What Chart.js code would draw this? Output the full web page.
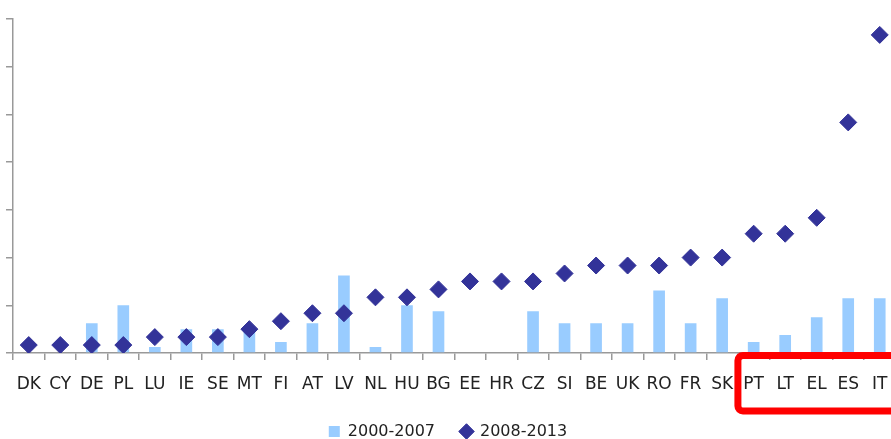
<!DOCTYPE html>
<html>
<head>
<meta charset="utf-8">
<script src="https://cdn.jsdelivr.net/npm/chart.js@4"></script>
<style>
  html, body { margin: 0; padding: 0; background: #fff; overflow: hidden; }
</style>
</head>
<body>
<canvas id="countryChart" width="905" height="439"></canvas>
<script>
const countries = ["DK", "CY", "DE", "PL", "LU", "IE", "SE", "MT", "FI", "AT", "LV", "NL", "HU", "BG",
  "EE", "HR", "CZ", "SI", "BE", "UK", "RO", "FR", "SK", "PT", "LT", "EL", "ES", "IT"];
const period1 = [0, 0, 3.75, 6, 0.75, 3, 3, 3, 1.375, 3.75, 9.75, 0.75, 6, 5.25,
  0, 0, 5.25, 3.75, 3.75, 3.75, 7.875, 3.75, 6.875, 1.375, 2.25, 4.5, 6.875, 6.875];
const period2 = [1, 1, 1, 1, 2, 2, 2, 3, 4, 5, 5, 7, 7, 8,
  9, 9, 9, 10, 11, 11, 11, 12, 12, 15, 15, 17, 29, 40];
const yTicks = [0, 6, 12, 18, 24, 30, 36, 42];
const highlightFrom = "PT";

const textFont = "'DejaVu Sans', sans-serif";

// red frame around the last group of country labels
const highlightBox = {
  id: "highlightBox",
  afterDraw(chart) {
    const x = chart.scales.x;
    const i = countries.indexOf(highlightFrom);
    const left = (x.getPixelForValue(i - 1) + x.getPixelForValue(i)) / 2;
    const top = x.top + 2.5;
    const bottom = x.top + 58;
    const right = chart.width + 20;
    const c = chart.ctx;
    c.save();
    c.strokeStyle = "#ff0000";
    c.lineWidth = 7;
    c.beginPath();
    c.roundRect(left, top, right - left, bottom - top, 5);
    c.stroke();
    c.restore();
  },
};

window.onload = function () {
  const ctx = document.getElementById("countryChart").getContext("2d");
  new Chart(ctx, {
    data: {
      labels: countries,
      datasets: [
        {
          type: "bar",
          label: "2000-2007",
          data: period1,
          backgroundColor: "#99ccff",
          borderWidth: 0,
          barPercentage: 0.37,
          categoryPercentage: 1,
          pointStyle: "rect",
          order: 2,
        },
        {
          type: "line",
          label: "2008-2013",
          data: period2,
          showLine: false,
          pointStyle: "rectRot",
          pointRadius: 8.5,
          pointBorderWidth: 1,
          pointBackgroundColor: "#333399",
          pointBorderColor: "#333399",
          backgroundColor: "#333399",
          borderColor: "#333399",
          order: 1,
        },
      ],
    },
    options: {
      responsive: false,
      animation: false,
      layout: { padding: { left: 0, right: 9, top: 19, bottom: -10.5 } },
      plugins: {
        tooltip: { enabled: false },
        legend: {
          position: "bottom",
          labels: {
            usePointStyle: true,
            boxHeight: 11,
            boxWidth: 11,
            padding: 26,
            color: "#222",
            font: { family: textFont, size: 16 },
            sort: (a, b) => a.datasetIndex - b.datasetIndex,
          },
        },
      },
      scales: {
        x: {
          grid: { display: true, drawOnChartArea: false, drawTicks: true, tickLength: 7, color: "#999", lineWidth: 1.5 },
          border: { color: "#999", width: 1.5 },
          ticks: {
            color: "#222",
            padding: 14,
            maxRotation: 0,
            autoSkip: false,
            font: { family: textFont, size: 17 },
          },
          afterFit(scale) {
            scale.height = 44.5;
          },
        },
        y: {
          min: 0,
          max: yTicks[yTicks.length - 1],
          afterBuildTicks(scale) {
            scale.ticks = yTicks.map((v) => ({ value: v }));
          },
          grid: { display: true, drawOnChartArea: false, drawTicks: true, tickLength: 7, color: "#999", lineWidth: 1.5 },
          border: { color: "#999", width: 1.5 },
          ticks: { display: false },
          afterFit(scale) {
            scale.width = 13;
          },
        },
      },
    },
    plugins: [highlightBox],
  });
};
</script>
</body>
</html>
